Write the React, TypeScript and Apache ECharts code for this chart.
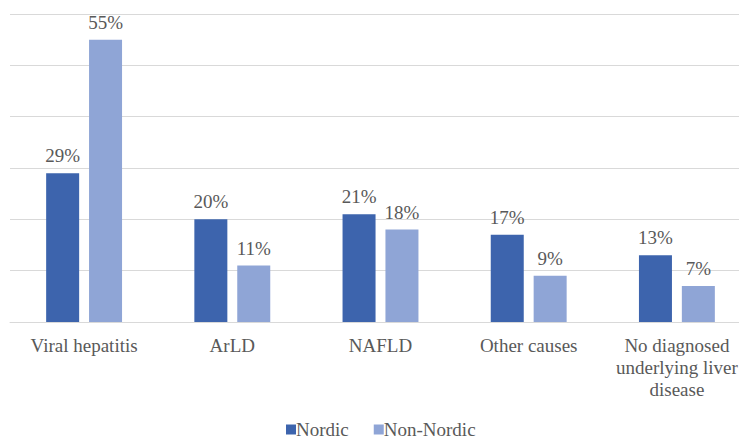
import React, { useEffect, useRef } from "react";
import * as echarts from "echarts";

const categories = [
  "Viral hepatitis",
  "ArLD",
  "NAFLD",
  "Other causes",
  "No diagnosed\nunderlying liver\ndisease",
];
const nordic = [29, 20, 21, 17, 13];
const nonNordic = [55, 11, 18, 9, 7];
const seriesNames = ["Nordic", "Non-Nordic"];

const FONT = '"Times New Roman", "Liberation Serif", "DejaVu Serif", "Noto Serif", serif';
const TEXT = "#595959";
const FS = 19;

export default function App() {
  const ref = useRef<HTMLDivElement>(null);
  useEffect(() => {
    if (!ref.current) return;
    const chart = echarts.init(ref.current, undefined, { renderer: "svg" });
    const label = {
      show: true,
      position: "top",
      distance: 8,
      formatter: "{c}%",
      color: TEXT,
      fontFamily: FONT,
      fontSize: FS,
    };
    chart.setOption({
      animation: false,
      textStyle: { fontFamily: FONT },
      grid: { left: 10, width: 741, top: 14, bottom: 118, containLabel: false },
      legend: {
        data: seriesNames,
        bottom: 1,
        left: 286,
        padding: 0,
        itemWidth: 10,
        itemHeight: 10,
        itemGap: 25,
        icon: "rect",
        textStyle: { color: TEXT, fontFamily: FONT, fontSize: FS, padding: [0, 0, 0, -5] },
      },
      xAxis: {
        type: "category",
        data: categories,
        axisLine: { lineStyle: { color: "#D9D9D9", width: 1 } },
        axisTick: { show: false },
        axisLabel: {
          color: TEXT,
          fontFamily: FONT,
          fontSize: FS,
          margin: 12,
          lineHeight: 22,
          interval: 0,
        },
      },
      yAxis: {
        type: "value",
        min: 0,
        max: 60,
        interval: 10,
        axisLabel: { show: false },
        axisLine: { show: false },
        axisTick: { show: false },
        splitLine: { lineStyle: { color: "#D9D9D9", width: 1 } },
      },
      series: [
        {
          name: seriesNames[0],
          type: "bar",
          data: nordic,
          barWidth: 33,
          barGap: "30%",
          itemStyle: { color: "#3D64AD" },
          label,
        },
        {
          name: seriesNames[1],
          type: "bar",
          data: nonNordic,
          barWidth: 33,
          barGap: "30%",
          itemStyle: { color: "#8FA5D6" },
          label,
        },
      ],
    });
    return () => chart.dispose();
  }, []);
  return (
    <div style={{ width: 739, height: 440, position: "absolute", left: 0, top: 0, overflow: "hidden" }}>
      <div ref={ref} style={{ width: 770, height: 440 }} />
    </div>
  );
}
